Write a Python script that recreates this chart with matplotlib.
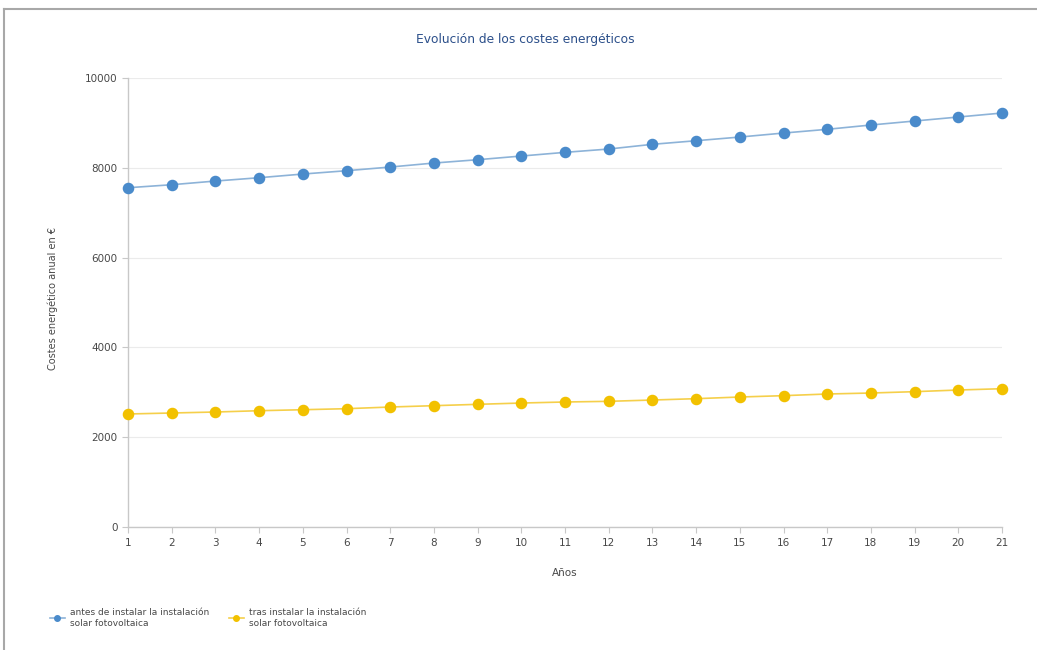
import matplotlib
matplotlib.use("Agg")
import matplotlib.pyplot as plt
from matplotlib.lines import Line2D

plt.rcParams['font.family'] = ['DejaVu Sans']

years = list(range(1, 22))
cost_before = [7556, 7623, 7705, 7779, 7861, 7935, 8017, 8106, 8180, 8262, 8344,
               8418, 8523, 8603, 8685, 8774, 8857, 8953, 9042, 9131, 9220]
cost_after = [2517, 2539, 2561, 2590, 2612, 2635, 2672, 2702, 2732, 2761, 2784,
              2799, 2828, 2858, 2895, 2925, 2962, 2984, 3014, 3051, 3080]
y_ticks = [0, 2000, 4000, 6000, 8000, 10000]
label_before = "antes de instalar la instalación\nsolar fotovoltaica"
label_after = "tras instalar la instalación\nsolar fotovoltaica"

blue_mk = "#4A8BCB"
blue_ln = "#8DB3D8"
yellow_mk = "#F2C100"
yellow_ln = "#F5CF4A"
text_col = "#484848"

fig = plt.figure(figsize=(10.37, 6.5), dpi=100)
ax = fig.add_axes([128/1037, 1 - 527/650, (1002 - 128)/1037, (527 - 78)/650])

ax.plot(years, cost_before, color=blue_ln, lw=1.2, marker="o", ms=7.3,
        mfc=blue_mk, mec=blue_mk, zorder=3, clip_on=False)
ax.plot(years, cost_after, color=yellow_ln, lw=1.2, marker="o", ms=7.3,
        mfc=yellow_mk, mec=yellow_mk, zorder=3, clip_on=False)

ax.set_xlim(1, 21)
ax.set_ylim(0, 10000)
ax.set_xticks(years)
ax.set_yticks(y_ticks)
ax.grid(axis="y", color="#EBEBEB", lw=0.8)
ax.set_axisbelow(True)
for s in ["top", "right"]:
    ax.spines[s].set_visible(False)
for s in ["left", "bottom"]:
    ax.spines[s].set_color("#C8C8C8")
    ax.spines[s].set_linewidth(1.0)
ax.tick_params(axis="both", colors="#C8C8C8", labelcolor=text_col,
               labelsize=7.5, length=4, width=0.8)
ax.tick_params(axis="x", pad=4)

ax.set_xlabel("Años", fontsize=7.5, color=text_col, labelpad=14)
ax.set_ylabel("Costes energético anual en €", fontsize=7, color=text_col)
ax.yaxis.set_label_coords(-70/874, 0.51)

fig.text(525/1037, 1 - 40/650, "Evolución de los costes energéticos",
         ha="center", va="center", fontsize=8.8, color="#2B4F8A")

handles = [
    Line2D([], [], color=blue_ln, lw=1.2, marker="o", ms=4, mfc=blue_mk, mec=blue_mk),
    Line2D([], [], color=yellow_ln, lw=1.2, marker="o", ms=4, mfc=yellow_mk, mec=yellow_mk),
]
fig.legend(handles, [label_before, label_after], loc="center left",
           bbox_to_anchor=(42/1037, 1 - 618/650), ncol=2, frameon=False,
           fontsize=6.5, labelcolor=text_col, handlelength=1.6, handletextpad=0.6,
           columnspacing=2.2)

# outer frame of the image
fig.add_artist(Line2D([4/1037, 4/1037], [0, 1 - 9/650], color="#A8A8A8", lw=1.5,
                      transform=fig.transFigure))
fig.add_artist(Line2D([4/1037, 1], [1 - 9/650, 1 - 9/650], color="#A8A8A8", lw=1.5,
                      transform=fig.transFigure))

fig.savefig("out.png", dpi=100, facecolor="white")
